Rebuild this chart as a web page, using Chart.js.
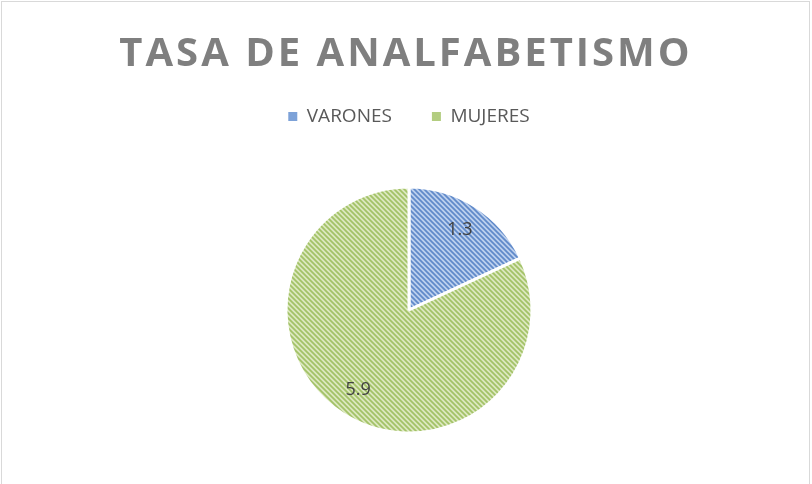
<!DOCTYPE html>
<html>
<head>
<meta charset="utf-8">
<script src="https://cdn.jsdelivr.net/npm/chart.js@4"></script>
<style>
  html, body { margin: 0; padding: 0; background: #fff; }
  #wrap { position: relative; width: 812px; height: 484px; }
  canvas { display: block; }
</style>
</head>
<body>
<div id="wrap"><canvas id="c" width="812" height="484"></canvas></div>
<script>
const titleText = 'TASA DE ANALFABETISMO';
const categories = ['VARONES', 'MUJERES'];
const values = [1.3, 5.9];
const baseColors = ['#bcd0ee', '#dce8bf'];
const stripeColors = ['#5f89c9', '#a2c266'];
const legendColors = ['#7da2d8', '#b3cd80'];

function makePattern(base, stripe) {
  const s = 5;
  const c = document.createElement('canvas');
  c.width = s; c.height = s;
  const x = c.getContext('2d');
  x.fillStyle = base;
  x.fillRect(0, 0, s, s);
  x.strokeStyle = stripe;
  x.lineWidth = 1.7;
  x.beginPath();
  x.moveTo(-1, -1); x.lineTo(s + 1, s + 1);
  x.moveTo(-1, s - 1); x.lineTo(1, s + 1);
  x.moveTo(s - 1, -1); x.lineTo(s + 1, 1);
  x.stroke();
  return x.createPattern(c, 'repeat');
}
const patterns = baseColors.map((b, i) => makePattern(b, stripeColors[i]));

const decorPlugin = {
  id: 'decor',
  afterDraw(chart) {
    const ctx = chart.ctx;
    ctx.save();
    // frame
    ctx.strokeStyle = '#d9d9d9';
    ctx.lineWidth = 1;
    ctx.strokeRect(1.5, 1.5, 808, 520);
    // title
    ctx.fillStyle = '#7f7f7f';
    ctx.font = 'bold 40px "Open Sans"';
    ctx.letterSpacing = '3px';
    ctx.textAlign = 'center';
    ctx.textBaseline = 'alphabetic';
    ctx.fillText(titleText, 406, 66);
    ctx.letterSpacing = '0px';
    // data labels
    const meta = chart.getDatasetMeta(0);
    ctx.fillStyle = '#404040';
    ctx.font = '18px "Open Sans"';
    ctx.textBaseline = 'middle';
    meta.data.forEach((arc, i) => {
      const p = arc.getProps(['x', 'y', 'startAngle', 'endAngle', 'outerRadius']);
      const mid = (p.startAngle + p.endAngle) / 2;
      const r = p.outerRadius * 0.77;
      ctx.fillText(String(values[i]), p.x + Math.cos(mid) * r, p.y + Math.sin(mid) * r);
    });
    ctx.restore();
  }
};

new Chart(document.getElementById('c'), {
  type: 'pie',
  data: {
    labels: categories,
    datasets: [{
      data: values,
      backgroundColor: patterns,
      borderColor: '#ffffff',
      borderWidth: 3,
      radius: 123
    }]
  },
  options: {
    responsive: false,
    animation: false,
    events: [],
    layout: { padding: { top: 67, bottom: 0, left: 6, right: 0 } },
    plugins: {
      title: { display: false },
      tooltip: { enabled: false },
      legend: {
        position: 'top',
        labels: {
          usePointStyle: true,
          pointStyle: 'rect',
          boxWidth: 9,
          boxHeight: 9,
          padding: 40,
          color: '#595959',
          font: { family: '"Open Sans"', size: 19 },
          generateLabels(chart) {
            return categories.map((name, i) => ({
              text: name,
              fillStyle: legendColors[i],
              strokeStyle: legendColors[i],
              lineWidth: 0,
              fontColor: '#595959',
              pointStyle: 'rect',
              hidden: false,
              index: i
            }));
          }
        }
      }
    }
  },
  plugins: [decorPlugin]
});
</script>
</body>
</html>
